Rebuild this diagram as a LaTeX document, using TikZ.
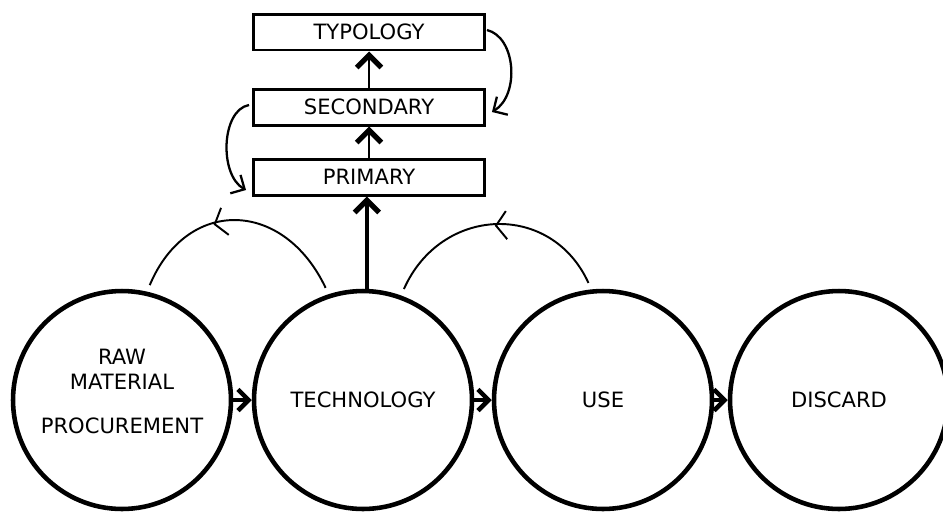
\documentclass[tikz,border=0pt]{standalone}
\usepackage{fontspec}
\setmainfont{DejaVu Sans}
\usetikzlibrary{arrows.meta, decorations.markings, calc}

\begin{document}
\begin{tikzpicture}[
        x=0.02cm, y=-0.02cm,
        stage/.style={
            circle,
            draw,
            line width=2.6pt,
            minimum size=4.36cm,
            inner sep=0pt,
            align=center,
            font=\fontsize{12}{14}\selectfont
        },
        level box/.style={
            rectangle,
            draw,
            line width=1.7pt,
            minimum width=4.62cm,
            minimum height=0.72cm,
            inner sep=0pt,
            font=\fontsize{12}{14}\selectfont
        },
        flow/.style={
            line width=2.6pt,
            -{Straight Barb[length=6pt, width=12pt, line width=2.6pt]}
        },
        step up/.style={
            line width=1.2pt,
            -{Straight Barb[length=7pt, width=14pt, line width=3pt]}
        },
        thin curve/.style={
            line width=1.3pt,
            -{Straight Barb[length=6pt, width=12pt, line width=1.3pt]}
        },
        back arc/.style={
            line width=1.1pt,
            shorten <=4pt, shorten >=4pt,
            postaction={decorate},
            decoration={markings,
                mark=at position #1 with {\arrow{Straight Barb[length=6pt, width=16pt, line width=1.1pt]}}}
        }
    ]
        \useasboundingbox (0,0) rectangle (943,512);

        % --- STAGES ---
        \node[stage] (raw) at (122,400) {RAW\\MATERIAL\\[11pt]PROCUREMENT\\[-4pt]\mbox{}};
        \node[stage] (tech) at (363,400) {TECHNOLOGY};
        \node[stage] (use) at (603,400) {USE};
        \node[stage] (discard) at (839,400) {DISCARD};

        % --- LEVELS ---
        \node[level box] (typ) at (369,32) {TYPOLOGY};
        \node[level box] (sec) at (369,107) {SECONDARY};
        \node[level box] (prim) at (369,177) {PRIMARY};

        % --- STAGE FLOW ---
        \draw[flow] (raw) -- (tech);
        \draw[flow] (tech) -- (use);
        \draw[flow] (use) -- (discard);

        % --- UP THE LEVELS ---
        \draw[step up, line width=2pt] (tech.88) -- (tech.88 |- prim.south);
        \draw[step up] (prim) -- (sec);
        \draw[step up] (sec) -- (typ);

        % --- FEEDBACK ARCS ---
        \draw[back arc=0.6] (tech.108) .. controls +(-45,-95) and +(40,-95) .. (raw.77);
        \draw[back arc=0.5] (use.96) .. controls +(-40,-88) and +(40,-90) .. (tech.70);

        % --- SIDE CURVES ---
        \draw[thin curve] ($(typ.east)+(1,-2)$) .. controls +(29,7) and +(28,-17) .. ($(sec.east)+(6,5)$);
        \draw[thin curve] ($(sec.west)+(-3,-2)$) .. controls +(-28,5) and +(-27,-15) .. ($(prim.west)+(-6,13)$);

    \end{tikzpicture}
\end{document}
